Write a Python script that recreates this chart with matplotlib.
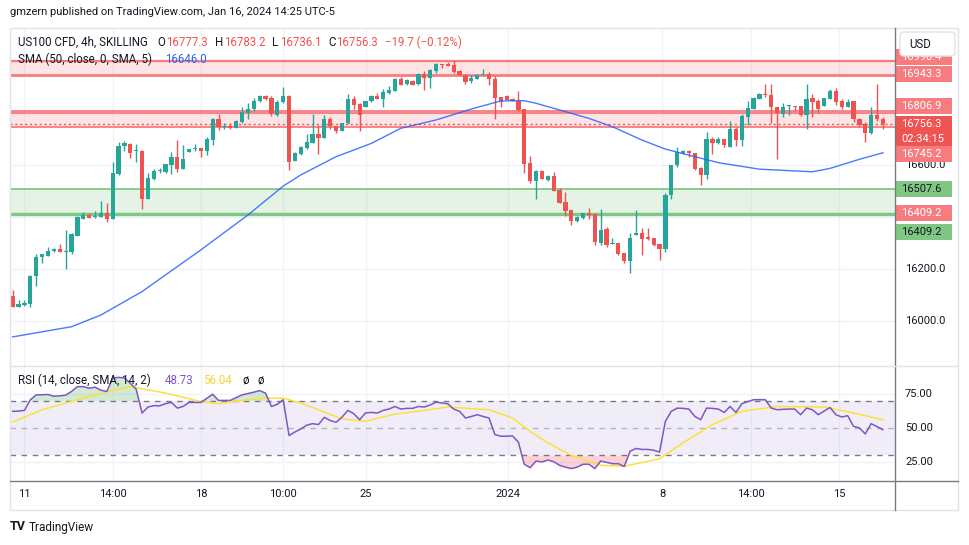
import matplotlib
matplotlib.use("Agg")
import matplotlib.pyplot as plt
from matplotlib.patches import Rectangle, FancyBboxPatch
from matplotlib.transforms import IdentityTransform
from matplotlib.lines import Line2D
import numpy as np

plt.rcParams['font.family'] = ['Roboto', 'DejaVu Sans']

# US100 CFD 4h candles, oldest -> newest
opens = [16096, 16055, 16061, 16065, 16173, 16245, 16251, 16268, 16278, 16266,
         16265, 16328, 16393, 16406, 16400, 16400, 16416, 16393, 16564, 16671,
         16680, 16652, 16653, 16470, 16546, 16575, 16572, 16600, 16629, 16584,
         16650, 16660, 16664, 16654, 16695, 16775, 16744, 16749, 16743, 16765,
         16800, 16813, 16844, 16864, 16856, 16792, 16840, 16864, 16616, 16641,
         16664, 16685, 16718, 16703, 16775, 16749, 16731, 16759, 16851, 16833,
         16823, 16844, 16864, 16854, 16874, 16884, 16930, 16910, 16923, 16910,
         16948, 16933, 16961, 16987, 16986, 16982, 16961, 16946, 16923, 16930,
         16945, 16948, 16928, 16859, 16864, 16854, 16846, 16813, 16606, 16539,
         16577, 16541, 16557, 16503, 16457, 16426, 16385, 16396, 16414, 16411,
         16301, 16352, 16297, 16298, 16260, 16232, 16331, 16337, 16324, 16319,
         16296, 16278, 16485, 16598, 16645, 16654, 16644, 16588, 16562, 16698,
         16685, 16698, 16669, 16736, 16695, 16785, 16815, 16854, 16872, 16867,
         16821, 16795, 16825, 16826, 16826, 16790, 16856, 16843, 16826, 16854,
         16884, 16844, 16823, 16844, 16777, 16756, 16721, 16790, 16777.3]
highs = [16119, 16081, 16081, 16177, 16257, 16257, 16285, 16280, 16296, 16349,
         16336, 16403, 16419, 16414, 16422, 16461, 16453, 16611, 16687, 16690,
         16684, 16680, 16655, 16567, 16583, 16588, 16604, 16649, 16695, 16675,
         16661, 16680, 16665, 16708, 16780, 16795, 16759, 16762, 16772, 16823,
         16836, 16856, 16868, 16867, 16864, 16849, 16897, 16866, 16649, 16672,
         16718, 16795, 16751, 16790, 16785, 16750, 16761, 16872, 16864, 16838,
         16846, 16869, 16874, 16892, 16902, 16932, 16936, 16928, 16925, 16951,
         16959, 16966, 16992, 16988, 16995, 17002, 16962, 16948, 16943, 16947,
         16966, 16956, 16941, 16860, 16866, 16856, 16884, 16815, 16634, 16580,
         16580, 16562, 16572, 16511, 16495, 16427, 16402, 16416, 16434, 16413,
         16431, 16362, 16319, 16300, 16261, 16339, 16426, 16357, 16357, 16320,
         16297, 16490, 16600, 16669, 16656, 16656, 16646, 16593, 16726, 16708,
         16708, 16699, 16769, 16744, 16795, 16844, 16861, 16877, 16910, 16910,
         16822, 16836, 16829, 16827, 16827, 16910, 16872, 16851, 16857, 16890,
         16895, 16851, 16851, 16846, 16778, 16764, 16821, 16910, 16783.2]
lows = [16055, 16054, 16058, 16055, 16134, 16224, 16251, 16266, 16264, 16201,
        16257, 16326, 16391, 16394, 16397, 16398, 16381, 16391, 16562, 16654,
        16627, 16612, 16431, 16468, 16541, 16570, 16567, 16564, 16573, 16582,
        16648, 16654, 16631, 16636, 16677, 16733, 16736, 16736, 16741, 16759,
        16777, 16808, 16842, 16849, 16787, 16787, 16838, 16580, 16614, 16639,
        16662, 16683, 16641, 16701, 16738, 16722, 16729, 16757, 16815, 16728,
        16821, 16841, 16851, 16823, 16872, 16882, 16905, 16908, 16905, 16908,
        16887, 16895, 16953, 16972, 16979, 16954, 16941, 16910, 16915, 16928,
        16943, 16905, 16777, 16823, 16847, 16843, 16808, 16567, 16531, 16470,
        16544, 16536, 16498, 16452, 16403, 16367, 16381, 16391, 16393, 16291,
        16293, 16285, 16296, 16252, 16222, 16185, 16330, 16255, 16311, 16288,
        16234, 16265, 16470, 16590, 16643, 16631, 16580, 16521, 16544, 16641,
        16680, 16669, 16667, 16672, 16672, 16754, 16813, 16852, 16861, 16759,
        16621, 16785, 16790, 16805, 16787, 16736, 16782, 16800, 16825, 16852,
        16831, 16813, 16821, 16764, 16744, 16687, 16719, 16769, 16736.1]
closes = [16055, 16065, 16069, 16173, 16245, 16257, 16270, 16278, 16266, 16270,
          16334, 16401, 16406, 16396, 16403, 16416, 16393, 16567, 16672, 16684,
          16646, 16655, 16470, 16549, 16576, 16578, 16603, 16629, 16584, 16621,
          16660, 16664, 16654, 16698, 16775, 16744, 16748, 16743, 16768, 16803,
          16813, 16844, 16864, 16854, 16795, 16841, 16864, 16612, 16644, 16667,
          16687, 16718, 16703, 16775, 16749, 16731, 16759, 16851, 16831, 16790,
          16844, 16864, 16854, 16879, 16887, 16930, 16907, 16925, 16907, 16948,
          16933, 16964, 16987, 16982, 16981, 16956, 16943, 16918, 16933, 16946,
          16948, 16928, 16856, 16841, 16849, 16846, 16810, 16603, 16539, 16577,
          16546, 16557, 16500, 16454, 16424, 16385, 16400, 16414, 16406, 16303,
          16349, 16293, 16300, 16257, 16232, 16319, 16337, 16314, 16314, 16293,
          16278, 16485, 16598, 16649, 16654, 16644, 16585, 16562, 16698, 16685,
          16698, 16675, 16736, 16695, 16787, 16818, 16856, 16872, 16867, 16821,
          16798, 16821, 16828, 16821, 16790, 16851, 16841, 16815, 16856, 16884,
          16841, 16823, 16841, 16777, 16754, 16721, 16790, 16777.3, 16756.3]

# SMA(50) read at some candle positions
sma_idx = [0, 10, 15, 22, 32, 40, 46, 49, 55, 61, 66, 72, 78, 83, 87, 89, 94,
           98, 102, 107, 111, 115, 120, 127, 136, 139, 144, 148]
sma_val = [15939, 15978, 16023, 16113, 16273, 16407, 16518, 16561, 16631, 16682,
           16740, 16772, 16814, 16845, 16846, 16836, 16804, 16778, 16746, 16695,
           16660, 16637, 16608, 16583, 16573, 16586, 16621, 16646]

# RSI(14), one value per candle
rsi_val = [62.3, 62.5, 63, 70.9, 74.5, 74.6, 74.8, 73.5, 73.8, 74.3,
           77, 80.6, 80.6, 79.4, 80.2, 78, 77, 86.8, 87.5, 87,
           83.1, 78.7, 61, 65.5, 66.5, 66.4, 68, 68.9, 64.7, 66,
           68.9, 68.9, 68.9, 72, 75, 70.4, 70.4, 70.4, 72.5, 74.5,
           75.5, 76.5, 77.7, 75.8, 65.9, 67.5, 70.9, 44.4, 47, 49.3,
           52, 53.2, 52.5, 57.9, 55.5, 54.2, 58, 63, 60.6, 56.1,
           61.1, 61.5, 61.1, 63, 64, 65.9, 64, 64.5, 64.5, 65.9,
           65.5, 67, 69.1, 68.5, 67.9, 64, 62.3, 57.4, 58.5, 59.8,
           58.5, 57.4, 45.1, 43.9, 43.9, 44.1, 39.5, 23.1, 20.6, 25.5,
           24.8, 26.2, 25, 22.3, 21, 19.9, 21, 23.1, 23.1, 19.9,
           25.5, 24.5, 23.5, 23.5, 21.4, 32.8, 34.8, 34.1, 34.1, 33.5,
           32.1, 54.9, 62.3, 64.7, 64.5, 64, 58.6, 56.1, 64.7, 64.5,
           64, 61.5, 65.9, 61.5, 67.9, 69.5, 70.9, 71, 70.9, 64.7,
           63.5, 63.8, 64, 64, 59.8, 64.7, 63.5, 59.8, 62.5, 65.2,
           59.8, 58.1, 59.1, 51.2, 50, 45.6, 53.2, 51, 48.73]

# RSI based SMA(14) read at some candle positions
rsi_sma_idx = [0, 5, 9, 15, 20, 26, 32, 35, 40, 43, 46, 49, 52, 56, 60, 65, 70,
               74, 81, 85, 88, 91, 95, 100, 104, 110, 114, 119, 124, 130, 138,
               143, 148]
rsi_sma_val = [54.4, 63.5, 68.4, 75.8, 80.6, 75.8, 69.6, 68, 70.9, 72.1, 72.1,
               68.4, 63.5, 56.7, 54.9, 60.3, 63, 65.5, 63.5, 57.4, 47.5, 39,
               29.7, 22.3, 21.6, 27.2, 39, 52.5, 62.3, 65.9, 65.5, 61.1, 56.04]

# drawn zones
zone_top = [16943.3, 16998.4]
zone_mid = [16745.2, 16806.9]
zone_mid_line = 16800.5
zone_green = [16409.2, 16507.6]
last_price = 16756.3
countdown = "02:34:15"

price_ticks = [16000, 16200, 16400, 16600, 16800, 17000]
price_tick_labels = [16000, 16200, 16600]   # the others sit under the price tags
rsi_ticks = [25, 50, 75]
time_pos = [2, 17, 32, 46, 60, 84.3, 110.5, 125.5, 140.5]
time_lab = ["11", "14:00", "18", "10:00", "25", "2024", "8", "14:00", "15"]

GREEN = "#26A69A"
RED = "#EF5350"
TAG_RED = "#F77C80"
TAG_GREEN = "#81C784"
GRID = "#F0F3FA"
TXT = "#131722"

W, H = 970, 545
fig = plt.figure(figsize=(W / 100, H / 100), dpi=100)
fig.patch.set_facecolor("white")


def fx(x):
    return x / W


def fy(y):
    return 1 - y / H


ax = fig.add_axes([fx(10), fy(366), (895 - 10) / W, (366 - 28) / H])
ax_r = fig.add_axes([fx(10), fy(481), (895 - 10) / W, (481 - 366) / H])
for a in (ax, ax_r):
    a.set_xlim(-0.46, 150.05)
    for s in a.spines.values():
        s.set_visible(False)
    a.set_xticks([])
    a.set_yticks([])
    a.set_facecolor("white")
ax.set_ylim(15827.2, 17125.1)
ax_r.set_ylim(10.7, 95.9)

# grid
for t in time_pos:
    ax.axvline(t, color=GRID, lw=1, zorder=0)
    ax_r.axvline(t, color=GRID, lw=1, zorder=0)
for p in price_ticks:
    ax.axhline(p, color=GRID, lw=1, zorder=0)
for r in [25, 75]:
    ax_r.axhline(r, color=GRID, lw=1, zorder=0)

# zones
ax.axhspan(zone_top[0], zone_top[1], color=TAG_RED, alpha=0.2, lw=0, zorder=1)
ax.axhline(zone_top[0], color=TAG_RED, lw=2, zorder=1)
ax.axhline(zone_top[1], color=TAG_RED, lw=1.6, zorder=1)
ax.axhspan(zone_mid[0], zone_mid[1], color=TAG_RED, alpha=0.2, lw=0, zorder=1)
ax.axhline(zone_mid[0], color=TAG_RED, lw=1.3, zorder=1)
ax.axhline(zone_mid[1], color=TAG_RED, lw=1.3, zorder=1)
ax.axhline(zone_mid_line, color=TAG_RED, lw=1.3, zorder=1)
ax.axhspan(zone_green[0], zone_green[1], color=TAG_GREEN, alpha=0.2, lw=0, zorder=1)
ax.axhline(zone_green[1], color=TAG_GREEN, lw=1.3, zorder=1)
ax.axhline(zone_green[0], color=TAG_GREEN, lw=2.5, zorder=1)
ax.axhline(last_price, color=RED, lw=1, ls=(0, (1.5, 2)), zorder=2)

# candles
o = np.array(opens)
hi = np.array(highs)
lo = np.array(lows)
c = np.array(closes)
x = np.arange(len(c))
cols = np.where(c >= o, GREEN, RED)
ax.vlines(x, lo, hi, colors=cols, lw=1, zorder=3)
ax.bar(x, np.maximum(np.abs(c - o), 3), bottom=np.minimum(o, c), width=0.72,
       color=cols, lw=0, zorder=4)

# SMA
ax.plot(sma_idx, sma_val, color="#2962FF", lw=1, zorder=5, alpha=0.85)

# RSI pane
ax_r.axhspan(30, 70, color="#7E57C2", alpha=0.1, lw=0, zorder=1)
ax_r.axhline(70, color="#787B86", lw=1, ls=(0, (4, 4)), zorder=2)
ax_r.axhline(50, color="#787B86", lw=1, ls=(0, (4, 4)), alpha=0.5, zorder=2)
ax_r.axhline(30, color="#787B86", lw=1, ls=(0, (4, 4)), zorder=2)
rsi = np.array(rsi_val)
ax_r.fill_between(x, rsi, 70, where=rsi > 70, interpolate=True,
                  color="#4CAF50", alpha=0.25, lw=0, zorder=2)
ax_r.fill_between(x, rsi, 30, where=rsi < 30, interpolate=True,
                  color="#F23645", alpha=0.22, lw=0, zorder=2)
ax_r.plot(rsi_sma_idx, rsi_sma_val, color="#FDE03A", lw=1.1, zorder=3)
ax_r.plot(x, rsi, color="#7E57C2", lw=1.1, zorder=4)

# price scale labels
ytr = ax.get_yaxis_transform()
for p in price_tick_labels:
    ax.text(1.0113, p, f"{p:.1f}", transform=ytr, va="center", ha="left",
            fontsize=8, color=TXT, clip_on=False)
rtr = ax_r.get_yaxis_transform()
for r in rsi_ticks:
    ax_r.text(1.0113, r, f"{r:.2f}", transform=rtr, va="center", ha="left",
              fontsize=8, color=TXT, clip_on=False)
xtr = ax_r.get_xaxis_transform()
for t, lab in zip(time_pos, time_lab):
    ax_r.text(t, -0.113, lab, transform=xtr, va="center", ha="center",
              fontsize=8, color=TXT, clip_on=False)


def price_px(p):
    return H - ax.transData.transform((0, p))[1]


def tag(p, lines, bg, fg, dy=0.0, h=16, top=None):
    yc = price_px(p) + dy
    y0 = yc - h / 2 if top is None else yc - top
    fig.add_artist(Rectangle((fx(896), fy(y0 + h)), 56 / W, h / H,
                             transform=fig.transFigure, color=bg, lw=0, zorder=5))
    step = h / len(lines)
    for i, s in enumerate(lines):
        fig.text(fx(901), fy(y0 + step * (i + 0.5)), s, va="center", ha="left",
                 fontsize=8, color=fg, zorder=6)


tag(zone_top[1], ["16998.4"], TAG_RED, "white", -4)
tag(zone_top[0], ["16943.3"], TAG_RED, "white", -1)
tag(zone_mid[1], ["16806.9"], TAG_RED, "white", -4.5)
tag(zone_mid[0], ["16745.2"], TAG_RED, "white", 27.5)
tag(zone_green[1], ["16507.6"], TAG_GREEN, TXT, 0)
tag(zone_green[0], ["16409.2"], TAG_RED, "white", -1.5)
tag(zone_green[0], ["16409.2"], TAG_GREEN, TXT, 17.5)
tag(last_price, [f"{last_price:.1f}", countdown], "#F05452", "white", 0.5, h=30, top=8.5)

# USD box
fig.add_artist(FancyBboxPatch((900, H - 56), 55, 24, transform=IdentityTransform(),
                              boxstyle="round,pad=0,rounding_size=4",
                              fc="white", ec="#E0E3EB", lw=1, zorder=7))
fig.text(fx(909), fy(44), "USD", va="center", ha="left", fontsize=8.3,
         color=TXT, zorder=8)

# frame lines
fig.add_artist(Rectangle((fx(10), fy(510)), (958 - 10) / W, (510 - 28) / H,
                         transform=fig.transFigure, fill=False, ec="#E0E3EB",
                         lw=1, zorder=9))
fig.add_artist(Line2D([fx(895), fx(895)], [fy(28), fy(510)],
                      transform=fig.transFigure, color="#787B86", lw=1, zorder=9))
fig.add_artist(Line2D([fx(10), fx(958)], [fy(481), fy(481)],
                      transform=fig.transFigure, color="#787B86", lw=1, zorder=9))
fig.add_artist(Line2D([fx(10), fx(958)], [fy(366), fy(366)],
                      transform=fig.transFigure, color="#E0E3EB", lw=1, zorder=9))

# header and legends
fig.text(fx(10), fy(12), "gmzern published on TradingView.com, Jan 16, 2024 14:25 UTC-5",
         va="center", ha="left", fontsize=8, color=TXT)
legend1 = [("US100 CFD, 4h, SKILLING", 18, TXT), ("O", 157, TXT), ("16777.3", 166, RED),
           ("H", 215, TXT), ("16783.2", 224, RED), ("L", 272, TXT),
           ("16736.1", 280, RED), ("C", 328, TXT), ("16756.3", 336, RED),
           ("\u221219.7 (\u22120.12%)", 385, RED)]
for s, xx, cc in legend1:
    fig.text(fx(xx), fy(42), s, va="center", ha="left", fontsize=8.3, color=cc, zorder=10)
fig.text(fx(18), fy(59), "SMA (50, close, 0, SMA, 5)", va="center", ha="left",
         fontsize=8.3, color=TXT, zorder=10)
fig.text(fx(165), fy(59), "16646.0", va="center", ha="left", fontsize=8.3,
         color="#2962FF", zorder=10)
legend_rsi = [("RSI (14, close, SMA, 14, 2)", 18, TXT), ("48.73", 165, "#7E57C2"),
              ("56.04", 203, "#F5D336"), ("\u00f8", 243, TXT), ("\u00f8", 257, TXT)]
for s, xx, cc in legend_rsi:
    fig.text(fx(xx), fy(380), s, va="center", ha="left", fontsize=8.3, color=cc, zorder=10)

# footer
fig.text(fx(10), fy(527), "TV", va="center", ha="left", fontsize=9,
         fontweight="bold", color=TXT)
fig.text(fx(29), fy(527), "TradingView", va="center", ha="left", fontsize=8.5, color=TXT)

fig.savefig("out.png", dpi=100, facecolor="white")
